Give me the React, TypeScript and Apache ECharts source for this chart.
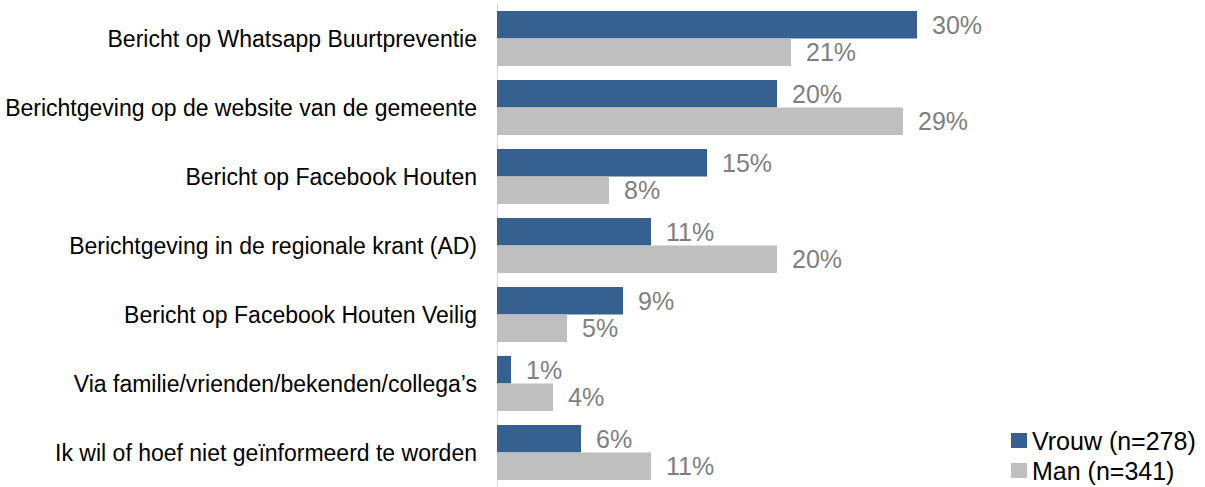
import React, { useEffect, useRef } from "react";
import * as echarts from "echarts";

const categories = [
  "Bericht op Whatsapp Buurtpreventie",
  "Berichtgeving op de website van de gemeente",
  "Bericht op Facebook Houten",
  "Berichtgeving in de regionale krant (AD)",
  "Bericht op Facebook Houten Veilig",
  "Via familie/vrienden/bekenden/collega’s",
  "Ik wil of hoef niet geïnformeerd te worden",
];
const vrouwValues = [30, 20, 15, 11, 9, 1, 6];
const manValues = [21, 29, 8, 20, 5, 4, 11];
const seriesNames = ["Vrouw (n=278)", "Man (n=341)"];

const FONT = "Liberation Sans, Arial, sans-serif";

export default function App() {
  const ref = useRef<HTMLDivElement>(null);
  useEffect(() => {
    if (!ref.current) return;
    const chart = echarts.init(ref.current, undefined, { renderer: "svg" });
    const label = {
      show: true,
      position: "right",
      distance: 15,
      formatter: "{c}%",
      color: "#7F7F7F",
      fontSize: 25,
      fontFamily: FONT,
    };
    chart.setOption({
      animation: false,
      textStyle: { fontFamily: FONT },
      grid: { left: 497, top: 4, width: 490, height: 483, containLabel: false },
      legend: {
        orient: "vertical",
        left: 1011,
        top: 428,
        padding: 0,
        itemWidth: 16,
        itemHeight: 15,
        itemGap: 5,
        icon: "rect",
        textStyle: { fontSize: 25, color: "#000", fontFamily: FONT },
        data: seriesNames,
      },
      xAxis: {
        type: "value",
        min: 0,
        max: 35,
        show: false,
      },
      yAxis: {
        type: "category",
        inverse: true,
        data: categories,
        axisLine: { show: true, lineStyle: { color: "#D9D9D9", width: 1 } },
        axisTick: { show: false },
        axisLabel: { margin: 20, fontSize: 23, color: "#000", fontFamily: FONT },
      },
      series: [
        {
          name: seriesNames[0],
          type: "bar",
          data: vrouwValues,
          itemStyle: { color: "#36608F" },
          barGap: "0%",
          barCategoryGap: "20%",
          label,
        },
        {
          name: seriesNames[1],
          type: "bar",
          data: manValues,
          itemStyle: { color: "#BFBFBF" },
          barGap: "0%",
          barCategoryGap: "20%",
          label,
        },
      ],
    });
    return () => chart.dispose();
  }, []);
  return (
    <div
      ref={ref}
      style={{ position: "absolute", left: 0, top: 0, width: 1205, height: 487, background: "#fff" }}
    />
  );
}
